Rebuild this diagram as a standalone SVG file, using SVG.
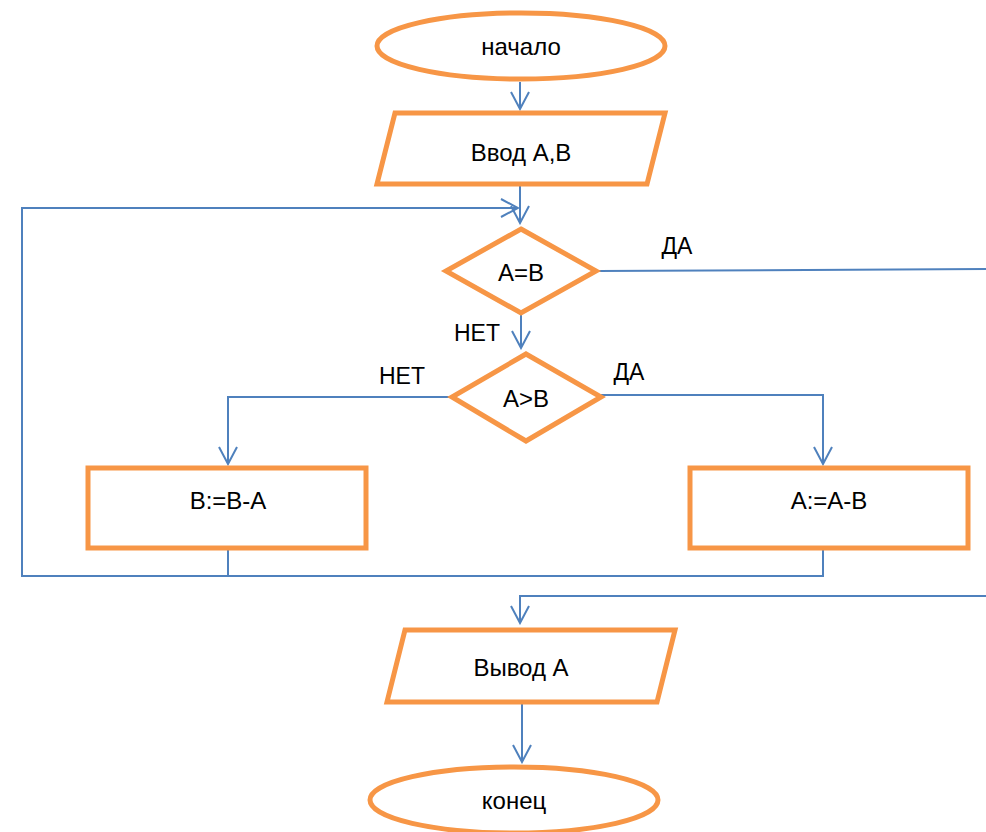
<svg xmlns="http://www.w3.org/2000/svg" width="986" height="832" viewBox="0 0 986 832">
<style>
.shape{fill:#ffffff;stroke:#F79646;stroke-width:5}
.line{fill:none;stroke:#4F81BD;stroke-width:2}
text{font-family:"Liberation Sans",Arial,sans-serif;font-size:24px;fill:#000;text-anchor:middle;dominant-baseline:central}
.lbl{font-size:23px}
</style>
<defs>
<marker id="arr" markerUnits="userSpaceOnUse" markerWidth="20" markerHeight="22" viewBox="0 0 20 22" refX="18" refY="11" orient="auto">
<path d="M1,2 L18,11 L1,20" fill="none" stroke="#4F81BD" stroke-width="2"/>
</marker>
</defs>
<g id="connectors">
<line class="line" x1="520" y1="82" x2="520" y2="109" marker-end="url(#arr)"/>
<line class="line" x1="520" y1="185" x2="520" y2="223" marker-end="url(#arr)"/>
<polyline class="line" points="228,576 22,576 22,208 518,208" marker-end="url(#arr)"/>
<line class="line" x1="598" y1="271" x2="986" y2="269"/>
<line class="line" x1="521" y1="315" x2="521" y2="348" marker-end="url(#arr)"/>
<polyline class="line" points="601,395 823,395 823,464" marker-end="url(#arr)"/>
<polyline class="line" points="451,397 228,397 228,464" marker-end="url(#arr)"/>
<line class="line" x1="228" y1="550" x2="228" y2="576"/>
<polyline class="line" points="823,550 823,576 228,576"/>
<polyline class="line" points="986,596 520,596 520,623" marker-end="url(#arr)"/>
<line class="line" x1="522" y1="704" x2="522" y2="762" marker-end="url(#arr)"/>
</g>
<g id="start">
<ellipse class="shape" cx="521" cy="46" rx="144" ry="33"/>
<text x="521" y="46">начало</text>
</g>
<g id="input">
<polygon class="shape" points="395,113 665,113 647,184 377,184"/>
<text x="521" y="152">Ввод A,B</text>
</g>
<g id="cond1">
<polygon class="shape" points="521,229 596,271 521,313 446,271"/>
<text x="521" y="272">A=B</text>
</g>
<g id="cond2">
<polygon class="shape" points="526,354 601,397 526,441 452,397"/>
<text x="526" y="398">A>B</text>
</g>
<g id="opB">
<rect class="shape" x="88" y="468" width="278" height="80"/>
<text x="228" y="500">B:=B-A</text>
</g>
<g id="opA">
<rect class="shape" x="690" y="468" width="278" height="80"/>
<text x="829" y="500">A:=A-B</text>
</g>
<g id="output">
<polygon class="shape" points="405,630 675,630 657,702 387,702"/>
<text x="521" y="667">Вывод A</text>
</g>
<g id="end">
<ellipse class="shape" cx="514" cy="800" rx="144" ry="33"/>
<text x="514" y="800">конец</text>
</g>
<g id="labels">
<text class="lbl" x="677" y="246">ДА</text>
<text class="lbl" x="477" y="333">НЕТ</text>
<text class="lbl" x="629" y="372">ДА</text>
<text class="lbl" x="402" y="376">НЕТ</text>
</g>
</svg>
